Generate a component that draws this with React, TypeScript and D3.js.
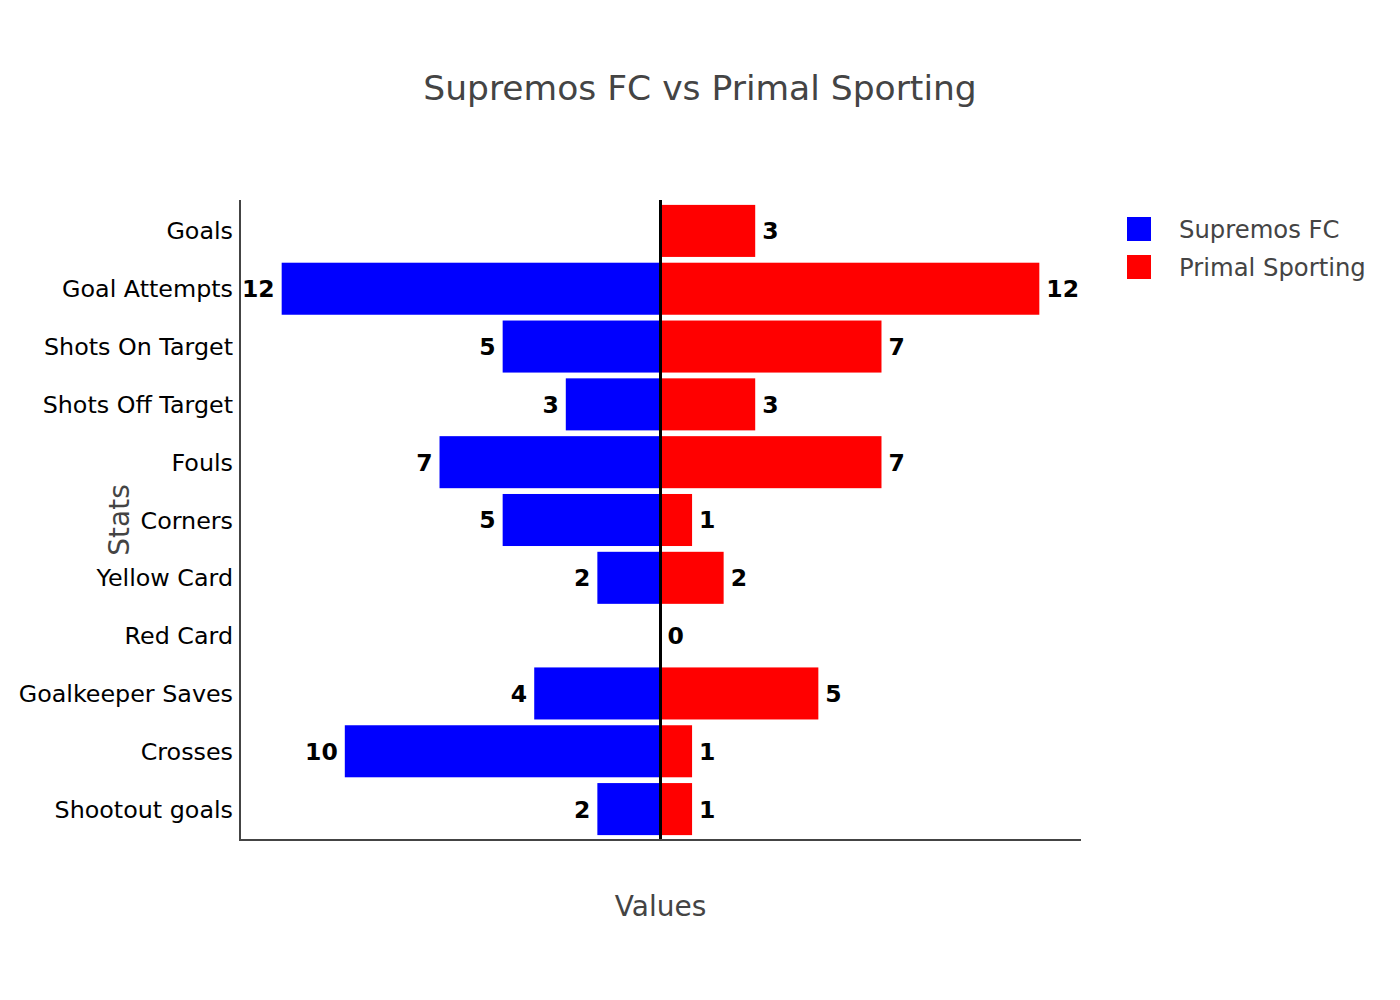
import React, { useRef, useEffect } from "react";
import * as d3 from "d3";

const categories = [
  "Goals",
  "Goal Attempts",
  "Shots On Target",
  "Shots Off Target",
  "Fouls",
  "Corners",
  "Yellow Card",
  "Red Card",
  "Goalkeeper Saves",
  "Crosses",
  "Shootout goals"
];
const supremos = [0, 12, 5, 3, 7, 5, 2, 0, 4, 10, 2];
const primal = [3, 12, 7, 3, 7, 1, 2, 0, 5, 1, 1];
const seriesNames = ["Supremos FC", "Primal Sporting"];
const seriesColors = ["#0000ff", "#ff0000"];

const font = "'DejaVu Sans', Verdana, sans-serif";

const App = () => {
  const node: any = useRef();

  useEffect(() => {
    const width = 1400,
      height = 1000;
    const left = 240,
      right = 1081,
      top = 202,
      bottom = 838;

    const svg = d3.select(node.current);
    svg.selectAll("*").remove();
    svg.attr("width", width).attr("height", height).style("font-family", font);

    const x = d3.scaleLinear().domain([-13.32, 13.32]).range([left, right]);
    const y = d3
      .scaleBand()
      .domain(categories)
      .range([top, bottom])
      .paddingInner(0.1)
      .paddingOuter(0.05);

    // title
    svg
      .append("text")
      .attr("x", 700)
      .attr("y", 100)
      .attr("text-anchor", "middle")
      .attr("font-size", "34.5px")
      .attr("fill", "#444")
      .text("Supremos FC vs Primal Sporting");

    // bars
    const bars = svg.append("g");
    bars
      .selectAll("rect.blue")
      .data(supremos)
      .enter()
      .append("rect")
      .attr("x", d => x(-d))
      .attr("y", (_, i) => y(categories[i])!)
      .attr("width", d => x(0) - x(-d))
      .attr("height", y.bandwidth())
      .attr("fill", seriesColors[0]);
    bars
      .selectAll("rect.red")
      .data(primal)
      .enter()
      .append("rect")
      .attr("x", x(0))
      .attr("y", (_, i) => y(categories[i])!)
      .attr("width", d => x(d) - x(0))
      .attr("height", y.bandwidth())
      .attr("fill", seriesColors[1]);

    // value labels
    const labels = svg
      .append("g")
      .attr("font-size", "23.5px")
      .attr("font-weight", "bold")
      .attr("fill", "#000");
    labels
      .selectAll("text.blue")
      .data(supremos.map((v, i) => ({ v, c: categories[i] })).filter(d => d.v > 0))
      .enter()
      .append("text")
      .attr("x", d => x(-d.v) - 7)
      .attr("y", d => y(d.c)! + y.bandwidth() / 2)
      .attr("dy", "0.36em")
      .attr("text-anchor", "end")
      .text(d => d.v);
    labels
      .selectAll("text.red")
      .data(primal.map((v, i) => ({ v, c: categories[i] })))
      .enter()
      .append("text")
      .attr("x", d => x(d.v) + 7)
      .attr("y", d => y(d.c)! + y.bandwidth() / 2)
      .attr("dy", "0.36em")
      .attr("text-anchor", "start")
      .text(d => d.v);

    // zero line
    svg
      .append("line")
      .attr("x1", x(0))
      .attr("x2", x(0))
      .attr("y1", 200)
      .attr("y2", 840)
      .attr("stroke", "#000")
      .attr("stroke-width", 3);

    // axes lines
    svg
      .append("line")
      .attr("x1", left)
      .attr("x2", left)
      .attr("y1", 200)
      .attr("y2", 841)
      .attr("stroke", "#444")
      .attr("stroke-width", 2);
    svg
      .append("line")
      .attr("x1", left - 1)
      .attr("x2", right)
      .attr("y1", 840)
      .attr("y2", 840)
      .attr("stroke", "#444")
      .attr("stroke-width", 2);

    // category tick labels
    svg
      .append("g")
      .selectAll("text")
      .data(categories)
      .enter()
      .append("text")
      .attr("x", 233)
      .attr("y", d => y(d)! + y.bandwidth() / 2)
      .attr("dy", "0.36em")
      .attr("text-anchor", "end")
      .attr("font-size", "23.8px")
      .attr("fill", "#000")
      .text(d => d);

    // axis titles
    svg
      .append("text")
      .attr("x", x(0))
      .attr("y", 916)
      .attr("text-anchor", "middle")
      .attr("font-size", "28px")
      .attr("fill", "#444")
      .text("Values");
    svg
      .append("text")
      .attr("transform", "translate(129,520) rotate(-90)")
      .attr("text-anchor", "middle")
      .attr("font-size", "28px")
      .attr("fill", "#444")
      .text("Stats");

    // legend
    const legend = svg
      .append("g")
      .selectAll("g")
      .data(seriesNames)
      .enter()
      .append("g")
      .attr("transform", (_, i) => `translate(1127,${217 + i * 38})`);
    legend
      .append("rect")
      .attr("width", 24)
      .attr("height", 24)
      .attr("fill", (_, i) => seriesColors[i]);
    legend
      .append("text")
      .attr("x", 52)
      .attr("y", 12)
      .attr("dy", "0.36em")
      .attr("font-size", "24.3px")
      .attr("fill", "#444")
      .text(d => d);
  }, []);

  return <svg ref={node} style={{ position: "absolute", left: 0, top: 0 }}></svg>;
};

export default App;
